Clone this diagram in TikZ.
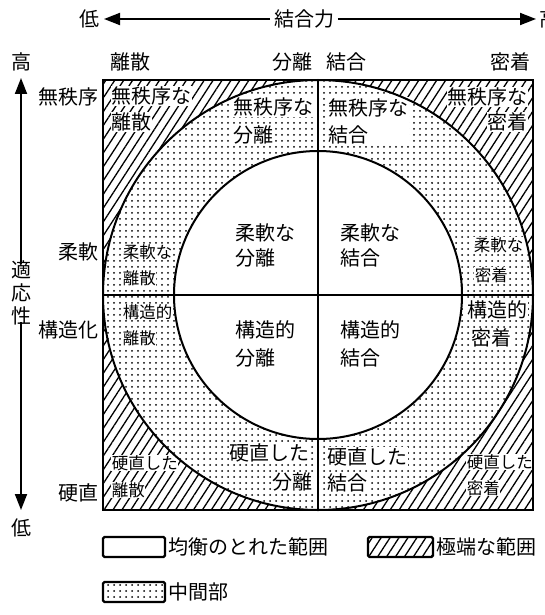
\documentclass[tikz,border=0pt]{standalone}
\usepackage{fontspec}
\setmainfont{Noto Sans CJK JP}
\usetikzlibrary{patterns.meta,arrows.meta}
\begin{document}
\begin{tikzpicture}[x=1pt,y=-1pt,
  big/.style={font=\fontsize{20}{20}\selectfont, inner sep=0.6pt},
  small/.style={font=\fontsize{16.5}{16.5}\selectfont, inner sep=0.6pt},
  wbg/.style={fill=white},
  hatch/.style={pattern={Lines[angle=57,distance=7.5pt,line width=1.3pt]}},
  dotty/.style={pattern={Dots[distance=6pt,radius=1pt]}},
  arr/.style={line width=1.8pt,-{Triangle[length=16pt,width=12pt]}},
  frame/.style={line width=2.6pt},
  ring/.style={line width=2pt},
  legbox/.style={line width=2.2pt, rounded corners=1.5pt}]
\useasboundingbox (0,0) rectangle (545,615);
\coordinate (c) at (318,295);
% regions
\fill[hatch, even odd rule] (103,80) rectangle (533,510) (c) circle[radius=215];
\fill[dotty, even odd rule] (c) circle[radius=215] (c) circle[radius=144];
% top axis
\node[big] (lowx) at (89,19) {低};
\node[big] (kr) at (304,19) {結合力};
\node[big, anchor=west, inner sep=0pt] (highx) at (539,19) {高};
\coordinate (tl) at (104,19);
\coordinate (tr) at (536,19);
\draw[arr] ([xshift=-3pt]kr.west) -- (tl);
\draw[arr] ([xshift=3pt]kr.east) -- (tr);
% left axis
\node[big] (highy) at (21,62) {高};
\node[big] (lowy) at (21,528) {低};
\node[big, align=center, font=\fontsize{20}{23}\selectfont] (tek) at (21,293) {適\\応\\性};
\coordinate (vt) at (21,78);
\coordinate (vb) at (21,510);
\draw[arr] ([yshift=-4pt]tek.north) -- (vt);
\draw[arr] ([yshift=4pt]tek.south) -- (vb);
% column labels
\node[big] (c1) at (130,62) {離散};
\node[big] (c2) at (292,62) {分離};
\node[big] (c3) at (346,62) {結合};
\node[big] (c4) at (510,62) {密着};
% row labels
\node[big, anchor=east] (r1) at (99,97) {無秩序};
\node[big, anchor=east] (r2) at (99,252) {柔軟};
\node[big, anchor=east] (r3) at (99,330) {構造化};
\node[big, anchor=east] (r4) at (99,493) {硬直};
% quadrant labels
\node[big, wbg, anchor=west] (a1) at (111,96) {無秩序な};
\node[big, wbg, anchor=west] (a2) at (111,122) {離散};
\node[big, wbg, anchor=west] (b1) at (233,107) {無秩序な};
\node[big, wbg, anchor=west] (b2) at (233,135) {分離};
\node[big, wbg, anchor=north west, align=left, font=\fontsize{20}{27}\selectfont, inner sep=1pt] (d1) at (327,97) {無秩序な\\結合};
\node[big, wbg, anchor=east] (e1) at (528,97) {無秩序な};
\node[big, wbg, anchor=east] (e2) at (528,122) {密着};
\node[big, anchor=west] (f1) at (235,233) {柔軟な};
\node[big, anchor=west] (f2) at (235,258) {分離};
\node[big, anchor=west] (g1) at (340,233) {柔軟な};
\node[big, anchor=west] (g2) at (340,258) {結合};
\node[small, wbg, anchor=west] (h1) at (122,252) {柔軟な};
\node[small, wbg, anchor=west] (h2) at (122,278) {離散};
\node[small, wbg, anchor=west] (i1) at (122,312) {構造的};
\node[small, wbg, anchor=west] (i2) at (122,338) {離散};
\node[big, anchor=west] (j1) at (235,330) {構造的};
\node[big, anchor=west] (j2) at (235,358) {分離};
\node[big, anchor=west] (k1) at (340,330) {構造的};
\node[big, anchor=west] (k2) at (340,358) {結合};
\node[small, wbg, anchor=west] (l1) at (473,245) {柔軟な};
\node[small, wbg, anchor=west] (l2) at (474,275) {密着};
\node[big, wbg, anchor=west] (m1) at (467,310) {構造的};
\node[big, wbg, anchor=west] (m2) at (471,338) {密着};
\node[small, wbg, anchor=west] (n1) at (111,463) {硬直した};
\node[small, wbg, anchor=west] (n2) at (111,490) {離散};
\node[big, wbg, anchor=west] (o1) at (229,453) {硬直した};
\node[big, wbg, anchor=east] (o2) at (313,482) {分離};
\node[big, wbg, anchor=west] (p1) at (327,457) {硬直した};
\node[big, wbg, anchor=west] (p2) at (327,483) {結合};
\node[small, wbg, anchor=west] (q1) at (466,462) {硬直した};
\node[small, wbg, anchor=west] (q2) at (466,488) {密着};
% lines
\draw[ring] (c) circle[radius=215];
\draw[ring] (c) circle[radius=144];
\draw[ring] (318,80) -- (318,510);
\draw[ring] (103,295) -- (533,295);
\draw[frame] (103,80) rectangle (533,510);
% legend
\draw[legbox] (103,537) rectangle (165,557);
\node[big, anchor=west] (lg1) at (168,547) {均衡のとれた範囲};
\draw[legbox, hatch] (368,537) rectangle (433,557);
\node[big, anchor=west] (lg2) at (436,547) {極端な範囲};
\draw[legbox, dotty] (103,582) rectangle (165,602);
\node[big, anchor=west] (lg3) at (168,592) {中間部};
\end{tikzpicture}
\end{document}
